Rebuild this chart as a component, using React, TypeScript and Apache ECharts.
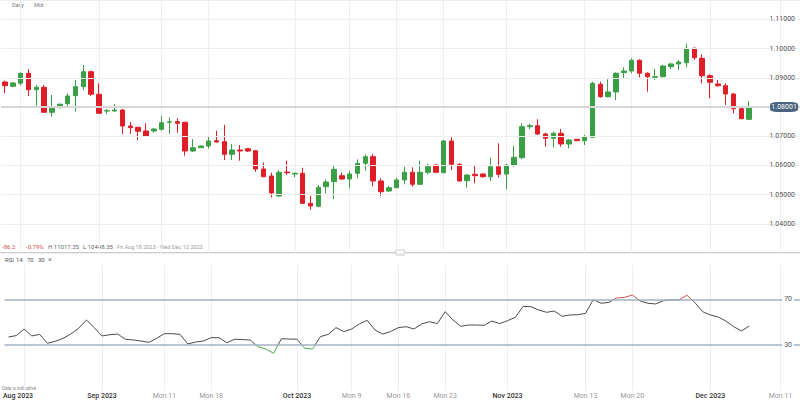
import React, { useEffect, useRef } from 'react';
import * as echarts from 'echarts';

// ---- trading calendar (Sun–Fri candles, calendar days after data end) ----
const dataStart = '2023-08-18';
const dataEnd = '2023-12-07';
const axisEnd = '2023-12-13';

// ---- OHLC values (EUR/USD daily) ----
const opens = [
  1.08856, 1.08709, 1.08812, 1.09154, 1.08592, 1.08675, 1.07818, 1.07976, 1.08113, 1.08387,
  1.08695, 1.09209, 1.08435, 1.07863, 1.07863, 1.07897, 1.07349, 1.07303, 1.07178, 1.07178,
  1.07236, 1.07476, 1.07497, 1.07476, 1.06493, 1.06606, 1.06664, 1.06846, 1.06812, 1.06380,
  1.06527, 1.06572, 1.06503, 1.05877, 1.05637, 1.04952, 1.05774, 1.05705, 1.05729, 1.04702,
  1.04599, 1.05271, 1.05442, 1.05647, 1.05534, 1.05729, 1.06072, 1.06298, 1.05466, 1.05123,
  1.05236, 1.05500, 1.05764, 1.05353, 1.05764, 1.06014, 1.05750, 1.06836, 1.06038, 1.05476,
  1.05695, 1.05705, 1.05613, 1.05955, 1.05705, 1.06014, 1.06264, 1.07325, 1.07360, 1.07075,
  1.06928, 1.07099, 1.06733, 1.06894, 1.06846, 1.06962, 1.08777, 1.08353, 1.08514, 1.09175,
  1.09233, 1.09599, 1.09154, 1.09017, 1.09038, 1.09380, 1.09473, 1.09517, 1.10010, 1.09668,
  1.09072, 1.08788, 1.08729, 1.08445, 1.07942, 1.07579,
];
const closes = [
  1.08729, 1.08822, 1.09154, 1.08592, 1.08675, 1.07818, 1.07955, 1.08092, 1.08377, 1.08695,
  1.09209, 1.08435, 1.07784, 1.07873, 1.07897, 1.07349, 1.07291, 1.07168, 1.07007, 1.07247,
  1.07462, 1.07497, 1.07442, 1.06493, 1.06606, 1.06664, 1.06836, 1.06801, 1.06380, 1.06527,
  1.06493, 1.06493, 1.05877, 1.05613, 1.05055, 1.05764, 1.05750, 1.05729, 1.04702, 1.04610,
  1.05250, 1.05432, 1.05866, 1.05534, 1.05705, 1.06072, 1.06298, 1.05466, 1.05099, 1.05236,
  1.05500, 1.05764, 1.05353, 1.05764, 1.05955, 1.05764, 1.06836, 1.06038, 1.05466, 1.05671,
  1.05647, 1.05613, 1.05955, 1.05695, 1.06014, 1.06277, 1.07325, 1.07360, 1.07075, 1.06928,
  1.07099, 1.06733, 1.06870, 1.06846, 1.06983, 1.08812, 1.08353, 1.08514, 1.09154, 1.09233,
  1.09599, 1.09154, 1.09038, 1.09038, 1.09404, 1.09473, 1.09541, 1.10010, 1.09688, 1.09072,
  1.08846, 1.08729, 1.08445, 1.07942, 1.07599, 1.08001,
];
const lows = [
  1.08469, 1.08675, 1.08743, 1.08377, 1.08045, 1.07818, 1.07668, 1.07955, 1.08034, 1.07839,
  1.08582, 1.08377, 1.07760, 1.07760, 1.07839, 1.07075, 1.07075, 1.06870, 1.06983, 1.07120,
  1.07188, 1.07075, 1.07120, 1.06332, 1.06459, 1.06596, 1.06572, 1.06777, 1.06185, 1.06185,
  1.06161, 1.06459, 1.05784, 1.05592, 1.04908, 1.04928, 1.05671, 1.05592, 1.04678, 1.04484,
  1.04565, 1.05045, 1.04849, 1.05500, 1.05216, 1.05558, 1.05818, 1.05284, 1.04952, 1.05099,
  1.05216, 1.05353, 1.05271, 1.05329, 1.05695, 1.05729, 1.05729, 1.05842, 1.05442, 1.05236,
  1.05387, 1.05579, 1.05466, 1.05592, 1.05182, 1.05955, 1.06209, 1.07247, 1.07041, 1.06640,
  1.06620, 1.06640, 1.06586, 1.06836, 1.06699, 1.06949, 1.08318, 1.08332, 1.08240, 1.08983,
  1.09154, 1.09017, 1.08524, 1.08925, 1.09017, 1.09291, 1.09267, 1.09360, 1.09610, 1.08812,
  1.08298, 1.08695, 1.08068, 1.07784, 1.07579, 1.07555,
];
const highs = [
  1.08901, 1.08856, 1.09175, 1.09291, 1.08753, 1.08753, 1.08411, 1.08127, 1.08469, 1.08925,
  1.09438, 1.09243, 1.08812, 1.07932, 1.08103, 1.07932, 1.07486, 1.07326, 1.07442, 1.07281,
  1.07692, 1.07647, 1.07613, 1.07497, 1.06904, 1.06675, 1.06983, 1.07188, 1.07384, 1.06733,
  1.06699, 1.06596, 1.06527, 1.06092, 1.05750, 1.05842, 1.06161, 1.05764, 1.05921, 1.04952,
  1.05329, 1.05524, 1.06014, 1.05750, 1.05818, 1.06209, 1.06380, 1.06390, 1.05558, 1.05295,
  1.05579, 1.05955, 1.05935, 1.06161, 1.06048, 1.06038, 1.06870, 1.06962, 1.06072, 1.05695,
  1.05979, 1.05729, 1.06264, 1.06757, 1.06038, 1.06675, 1.07442, 1.07418, 1.07579, 1.07120,
  1.07154, 1.07247, 1.06904, 1.06904, 1.07041, 1.08866, 1.08866, 1.08949, 1.09188, 1.09360,
  1.09668, 1.09634, 1.09188, 1.09301, 1.09449, 1.09517, 1.09610, 1.10174, 1.10045, 1.09805,
  1.09120, 1.08925, 1.08812, 1.08469, 1.08034, 1.08195,
];

// ---- RSI(14) ----
const rsi = [
  37.0, 38.2, 44.0, 37.9, 39.3, 31.5, 33.2, 35.8, 39.6, 44.6,
  51.9, 45.2, 37.9, 39.0, 39.6, 35.0, 34.4, 33.5, 32.3, 35.8,
  39.9, 39.9, 39.3, 30.9, 32.6, 33.5, 36.4, 36.4, 32.0, 35.0,
  34.7, 34.4, 28.5, 26.5, 22.7, 35.5, 35.2, 35.0, 27.1, 26.5,
  37.3, 39.3, 45.2, 41.7, 44.0, 48.4, 51.6, 43.1, 39.6, 41.7,
  45.2, 46.0, 44.0, 48.4, 50.4, 48.7, 59.2, 51.9, 46.3, 47.5,
  47.5, 47.2, 51.0, 48.7, 51.3, 54.2, 63.8, 63.5, 60.6, 58.6,
  59.7, 55.1, 56.3, 56.5, 57.7, 69.8, 66.5, 67.3, 71.1, 71.7,
  73.7, 68.5, 66.5, 65.9, 68.8, 69.4, 69.6, 73.5, 67.3, 59.2,
  56.3, 54.5, 51.0, 46.0, 42.3, 46.6,
];
const rsiLevels = [70, 30];

// ---- x tick labels ----
const tickDates = [
  '2023-08-21', '2023-09-01', '2023-09-11', '2023-09-18', '2023-10-01', '2023-10-09',
  '2023-10-16', '2023-10-23', '2023-11-01', '2023-11-13', '2023-11-20', '2023-12-01', '2023-12-11',
];
const tickLabels = [
  'Aug 2023', 'Sep 2023', 'Mon 11', 'Mon 18', 'Oct 2023', 'Mon 9',
  'Mon 16', 'Mon 23', 'Nov 2023', 'Mon 13', 'Mon 20', 'Dec 2023', 'Mon 11',
];

const GREEN = '#3b9f46';
const RED = '#de1f27';
const GRID = '#eeeeee';

function buildCategories(): string[] {
  const out: string[] = [];
  const d = new Date(dataStart + 'T00:00:00Z');
  const end = new Date(axisEnd + 'T00:00:00Z');
  while (d <= end) {
    const iso = d.toISOString().slice(0, 10);
    if (iso > dataEnd || d.getUTCDay() !== 6) out.push(iso);
    d.setUTCDate(d.getUTCDate() + 1);
  }
  return out;
}

export default function App() {
  const ref = useRef<HTMLDivElement>(null);

  useEffect(() => {
    if (!ref.current) return;
    const chart = echarts.init(ref.current, undefined, { renderer: 'svg' });
    const categories = buildCategories();
    const candles = opens.map((o, i) => [o, closes[i], lows[i], highs[i]]);
    const lastClose = closes[closes.length - 1];
    const isTick = (_i: number, v: string) => tickDates.indexOf(v) >= 0;

    const splitLine = {
      show: true,
      interval: isTick,
      alignWithLabel: true,
      lineStyle: { color: GRID, width: 1 },
    };

    const txt = (text: string, left: number, top: number, fill: string, fontSize = 6) => ({
      type: 'text',
      left,
      top,
      silent: true,
      style: { text, fill, fontSize, fontFamily: 'Roboto, sans-serif' },
    });

    chart.setOption({
      animation: false,
      backgroundColor: '#ffffff',
      textStyle: { fontFamily: 'Roboto, sans-serif' },
      grid: [
        { left: 1, right: 0, top: 0, height: 253 },
        { left: 1, right: 0, top: 265, height: 125.7 },
      ],
      xAxis: [
        {
          type: 'category',
          gridIndex: 0,
          data: categories,
          boundaryGap: true,
          axisLine: { show: false },
          axisTick: { show: false },
          axisLabel: { show: false },
          splitLine,
        },
        {
          type: 'category',
          gridIndex: 1,
          data: categories,
          boundaryGap: true,
          axisLine: { show: false },
          axisTick: { show: false },
          splitLine,
          axisLabel: {
            interval: isTick,
            margin: 2,
            hideOverlap: false,
            formatter: (v: string) => {
              const k = tickDates.indexOf(v);
              if (k < 0) return '';
              const t = tickLabels[k];
              if (t.startsWith('Mon')) return `{w|${t}}`;
              if (k === 0) return `{a|${t}}`;
              return `{m|${t}}`;
            },
            rich: {
              m: { color: '#333333', fontSize: 7, fontWeight: 500 },
              a: { color: '#333333', fontSize: 7, fontWeight: 500, padding: [0, 12, 0, 0] },
              w: { color: '#999999', fontSize: 7 },
            },
          },
        },
      ],
      yAxis: [
        {
          type: 'value',
          gridIndex: 0,
          position: 'right',
          min: 1.03,
          max: 1.11664,
          interval: 0.01,
          z: 5,
          axisLine: { show: false },
          axisTick: { show: false },
          splitLine: { show: true, lineStyle: { color: GRID } },
          axisLabel: {
            inside: true,
            margin: 5,
            fontSize: 7,
            color: '#555555',
            showMinLabel: false,
            showMaxLabel: false,
            // the tick hidden behind the current-price box is not drawn
            formatter: (v: number) => (Math.abs(v - lastClose) < 0.003 ? '' : v.toFixed(5)),
          },
        },
        {
          type: 'value',
          gridIndex: 1,
          position: 'right',
          min: -10,
          max: 100,
          interval: 10,
          z: 10,
          axisLine: { show: false },
          axisTick: { show: false },
          splitLine: { show: false },
          axisLabel: {
            inside: true,
            margin: 6,
            fontSize: 7,
            color: '#555555',
            backgroundColor: '#ffffff',
            padding: [0, 2],
            formatter: (v: number) => (rsiLevels.indexOf(v) >= 0 ? String(v) : ''),
          },
        },
      ],
      visualMap: {
        type: 'piecewise',
        show: false,
        seriesIndex: 1,
        dimension: 1,
        pieces: [
          { lt: 30, color: '#4cae50' },
          { gte: 30, lte: 70, color: '#4a4a4a' },
          { gt: 70, color: '#d9534f' },
        ],
      },
      series: [
        {
          type: 'candlestick',
          xAxisIndex: 0,
          yAxisIndex: 0,
          data: candles,
          barWidth: 5,
          itemStyle: {
            color: GREEN,
            color0: RED,
            borderColor: GREEN,
            borderColor0: RED,
            borderColorDoji: GREEN,
            borderWidth: 1,
          },
          markLine: {
            silent: true,
            symbol: ['none', 'none'],
            label: { show: false },
            lineStyle: { color: '#d6d6d6', width: 2, type: 'solid' },
            data: [{ yAxis: lastClose }],
          },
          markPoint: {
            silent: true,
            symbol: 'roundRect',
            symbolSize: [28, 10],
            symbolOffset: [-12, 0],
            itemStyle: { color: '#4b6481' },
            label: {
              show: true,
              position: 'inside',
              color: '#ffffff',
              fontSize: 7,
              formatter: (p: any) => Number(p.value).toFixed(5),
            },
            data: [{ coord: [categories[categories.length - 1], lastClose], value: lastClose }],
          },
        },
        {
          type: 'line',
          xAxisIndex: 1,
          yAxisIndex: 1,
          data: rsi,
          showSymbol: false,
          lineStyle: { width: 1 },
          z: 3,
          markLine: {
            silent: true,
            symbol: ['none', 'none'],
            label: { show: false },
            lineStyle: { color: '#a2b2c2', width: 1.5, type: 'solid' },
            data: rsiLevels.map((v) => ({ yAxis: v })),
          },
        },
      ],
      graphic: [
        txt('Daily', 12, 2, '#777777', 5.5),
        txt('Mid', 34, 2, '#777777', 5.5),
        txt('-86.2', 2, 243.5, '#d04848'),
        txt('-0.79%', 26, 243.5, '#d04848'),
        txt('H 11017.35', 48, 243.5, '#666666'),
        txt('L 10448.35', 83, 243.5, '#666666'),
        txt('Fri Aug 18 2023 - Wed Dec 13 2023', 117, 243.5, '#999999', 5.5),
        {
          type: 'line',
          silent: true,
          shape: { x1: 0, y1: 252.5, x2: 800, y2: 252.5 },
          style: { stroke: '#cccccc', lineWidth: 1 },
        },
        {
          type: 'rect',
          silent: true,
          shape: { x: 395.5, y: 250, width: 9, height: 5, r: 1 },
          style: { fill: '#ffffff', stroke: '#bbbbbb', lineWidth: 0.8 },
        },
        txt('RSI', 5, 256.5, '#555555'),
        txt('14', 16, 256.5, '#555555'),
        txt('70', 27, 256.5, '#555555'),
        txt('30', 38, 256.5, '#555555'),
        txt('×', 48, 256, '#777777', 7),
        txt('Data is indicative', 2, 385.5, '#888888', 4.5),
      ],
    });

    return () => chart.dispose();
  }, []);

  return (
    <div
      ref={ref}
      style={{ position: 'absolute', left: 0, top: 0, width: 800, height: 400, background: '#fff' }}
    />
  );
}
